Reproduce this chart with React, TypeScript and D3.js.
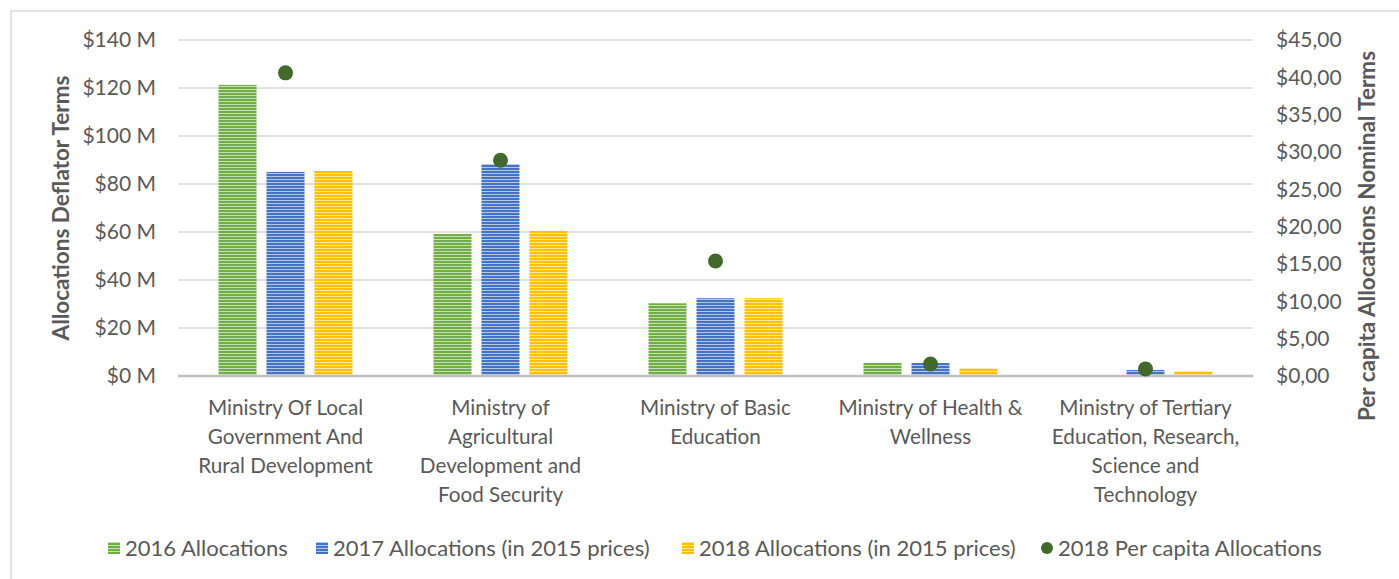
import * as d3 from "d3";

const categories = [
  ["Ministry Of Local", "Government And", "Rural Development"],
  ["Ministry of", "Agricultural", "Development and", "Food Security"],
  ["Ministry of Basic", "Education"],
  ["Ministry of Health &", "Wellness"],
  ["Ministry of Tertiary", "Education, Research,", "Science and", "Technology"],
];
const alloc2016 = [121.3, 59.2, 30.3, 5.4, 0.2];
const alloc2017 = [85.0, 88.3, 32.4, 5.4, 2.5];
const alloc2018 = [85.4, 60.4, 32.4, 3.3, 2.0];
const perCapita2018 = [40.6, 28.9, 15.4, 1.6, 0.95];
const leftTicks = [0, 20, 40, 60, 80, 100, 120, 140];
const rightTicks = [0, 5, 10, 15, 20, 25, 30, 35, 40, 45];
const seriesNames = [
  "2016 Allocations",
  "2017 Allocations (in 2015 prices)",
  "2018 Allocations (in 2015 prices)",
];
const perCapitaName = "2018 Per capita Allocations";

const W = 1399;
const H = 579;
const FONT = "Lato, 'Open Sans', sans-serif";
const TXT = "#595959";
const colors = ["#70AD47", "#4472C4", "#FFC000"];
const lights = ["#c6e0b4", "#b4c7e7", "#ffe699"];
const DOT = "#43682b";

export default function App() {
  const m = { left: 178, right: W - 1253, top: 40, bottom: H - 376 };
  const x0 = d3
    .scaleBand<number>()
    .domain(categories.map((_, i) => i))
    .range([m.left, W - m.right]);
  const groupW = x0.bandwidth() * 0.623;
  const x1 = d3
    .scaleBand<number>()
    .domain([0, 1, 2])
    .range([0, groupW])
    .paddingInner(0.2083);
  const yL = d3.scaleLinear().domain([0, 140]).range([H - m.bottom, m.top]);
  const yR = d3.scaleLinear().domain([0, 45]).range([H - m.bottom, m.top]);
  const series = [alloc2016, alloc2017, alloc2018];

  const legendItems = [
    { x: 108, text: seriesNames[0], kind: 0 },
    { x: 316, text: seriesNames[1], kind: 1 },
    { x: 682, text: seriesNames[2], kind: 2 },
    { x: 1041, text: perCapitaName, kind: 3 },
  ];

  return (
    <svg
      width={W}
      height={H}
      style={{ position: "absolute", left: 0, top: 0, fontFamily: FONT }}
    >
      <defs>
        {colors.map((c, i) => (
          <pattern
            key={i}
            id={`stripe${i}`}
            width={6}
            height={3}
            patternUnits="userSpaceOnUse"
          >
            <rect width={6} height={3} fill={lights[i]} />
            <rect width={6} height={2} fill={c} />
          </pattern>
        ))}
      </defs>
      <rect width={W} height={H} fill="#fff" />
      <rect
        x={11}
        y={11}
        width={W + 20}
        height={H + 20}
        fill="none"
        stroke="#d9d9d9"
        strokeWidth={1.5}
      />

      {leftTicks.map((t) => (
        <g key={t}>
          {t > 0 && (
            <line
              x1={m.left}
              x2={W - m.right}
              y1={yL(t)}
              y2={yL(t)}
              stroke="#d9d9d9"
              strokeWidth={1.3}
            />
          )}
          <text
            x={156}
            y={yL(t)}
            dy="0.35em"
            textAnchor="end"
            fontSize={21}
            fill={TXT}
          >{`$${t} M`}</text>
        </g>
      ))}
      {rightTicks.map((t) => (
        <text
          key={t}
          x={1276}
          y={yR(t)}
          dy="0.35em"
          fontSize={21}
          fill={TXT}
        >{`$${t},00`}</text>
      ))}

      {series.map((vals, s) =>
        vals.map((v, i) => (
          <rect
            key={`${s}-${i}`}
            x={(x0(i) ?? 0) + (x0.bandwidth() - groupW) / 2 + (x1(s) ?? 0)}
            y={yL(v)}
            width={x1.bandwidth()}
            height={yL(0) - yL(v)}
            fill={`url(#stripe${s})`}
          />
        ))
      )}

      <line
        x1={m.left}
        x2={W - m.right}
        y1={yL(0)}
        y2={yL(0)}
        stroke="#bfbfbf"
        strokeWidth={2.5}
      />

      {perCapita2018.map((v, i) => (
        <circle
          key={i}
          cx={(x0(i) ?? 0) + x0.bandwidth() / 2}
          cy={yR(v)}
          r={7.5}
          fill={DOT}
        />
      ))}

      {categories.map((lines, i) => (
        <text
          key={i}
          x={(x0(i) ?? 0) + x0.bandwidth() / 2}
          y={415}
          textAnchor="middle"
          fontSize={20.7}
          fill={TXT}
        >
          {lines.map((l, j) => (
            <tspan key={j} x={(x0(i) ?? 0) + x0.bandwidth() / 2} dy={j === 0 ? 0 : 29}>
              {l}
            </tspan>
          ))}
        </text>
      ))}

      <text
        transform="translate(69,208) rotate(-90)"
        textAnchor="middle"
        fontSize={22.5}
        fontWeight="bold"
        fill={TXT}
      >
        Allocations Deflator Terms
      </text>
      <text
        transform="translate(1375,236) rotate(-90)"
        textAnchor="middle"
        fontSize={22.5}
        fontWeight="bold"
        fill={TXT}
      >
        Per capita Allocations Nominal Terms
      </text>

      {legendItems.map((it) => (
        <g key={it.text}>
          {it.kind < 3 ? (
            <rect
              x={it.x}
              y={542}
              width={12}
              height={12}
              fill={`url(#stripe${it.kind})`}
            />
          ) : (
            <circle cx={it.x + 6} cy={548} r={6} fill={DOT} />
          )}
          <text x={it.x + 17} y={548} dy="0.35em" fontSize={22} fill={TXT}>
            {it.text}
          </text>
        </g>
      ))}
    </svg>
  );
}
